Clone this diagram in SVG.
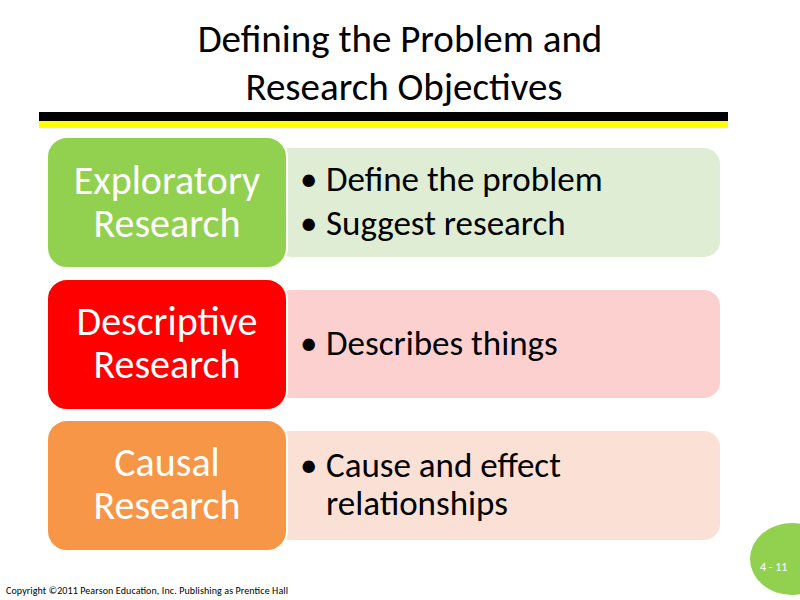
<svg xmlns="http://www.w3.org/2000/svg" width="800" height="600" viewBox="0 0 800 600">
<style>
text{font-family:Calibri,Carlito,"Liberation Sans",sans-serif}
.t{font-size:40px;fill:#fff;text-anchor:middle}
.b{font-size:35px;fill:#000}
</style>
<rect width="800" height="600" fill="#fff"/>
<text x="400" y="52" text-anchor="middle" font-size="39" fill="#000">Defining the Problem and</text>
<text x="404" y="100" text-anchor="middle" font-size="39" fill="#000">Research Objectives</text>
<rect x="39" y="112" width="689" height="9" fill="#000"/>
<rect x="39" y="121" width="689" height="7" fill="#ff0"/>
<g id="n1">
<rect x="275" y="148" width="445" height="109" rx="16" fill="#deedd3"/>
<rect x="47" y="137" width="240" height="131" rx="20" fill="#92d050" stroke="#fff" stroke-width="2"/>
<text class="t" x="167" y="194">Exploratory</text><text class="t" x="167" y="237">Research</text>
<text class="b" x="300" y="191">•</text><text class="b" x="326" y="191">Define the problem</text>
<text class="b" x="300" y="235">•</text><text class="b" x="326" y="235">Suggest research</text>
</g>
<g id="n2">
<rect x="275" y="290" width="445" height="108" rx="16" fill="#fdd0d0"/>
<rect x="47" y="279" width="240" height="131" rx="20" fill="#ff0000" stroke="#fff" stroke-width="2"/>
<text class="t" x="167" y="335">Descriptive</text><text class="t" x="167" y="378">Research</text>
<text class="b" x="300" y="355">•</text><text class="b" x="326" y="355">Describes things</text>
</g>
<g id="n3">
<rect x="275" y="431" width="445" height="109" rx="16" fill="#fbe0d5"/>
<rect x="47" y="420" width="240" height="131" rx="20" fill="#f79646" stroke="#fff" stroke-width="2"/>
<text class="t" x="167" y="476">Causal</text><text class="t" x="167" y="519">Research</text>
<text class="b" x="300" y="477">•</text><text class="b" x="326" y="477">Cause and effect</text>
<text class="b" x="326" y="515">relationships</text>
</g>
<g id="connectors"></g>
<ellipse cx="792" cy="559" rx="42" ry="36" fill="#92d050"/>
<text x="760" y="571" font-size="12" fill="#fff">4 - 11</text>
<text x="6" y="594" font-size="10" fill="#000" font-family="'Liberation Sans Narrow','Liberation Sans',sans-serif" textLength="282">Copyright ©2011 Pearson Education, Inc. Publishing as Prentice Hall</text>
</svg>
